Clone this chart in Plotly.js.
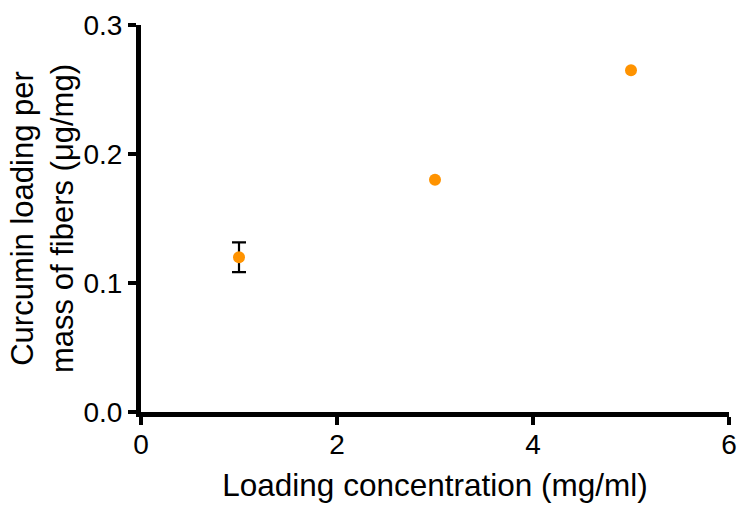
<!DOCTYPE html>
<html>
<head>
<meta charset="utf-8">
<script src="https://cdn.plot.ly/plotly-3.0.1.min.js"></script>
<style>html,body{margin:0;padding:0;background:#fff;}</style>
</head>
<body>
<div id="chart" style="width:737px;height:508px;"></div>
<script>
const concentration = [1, 3, 5];
const loading = [0.12, 0.18, 0.265];
// only the first point has a visible error bar
const loadingErr = [0.0115, undefined, undefined];
const xTicks = [0, 2, 4, 6];
const yTicks = [0.0, 0.1, 0.2, 0.3];
const yTickLabels = ["0.0", "0.1", "0.2", "0.3"];

const font = "Liberation Sans, Arial, sans-serif";

Plotly.newPlot("chart", [{
  x: concentration,
  y: loading,
  type: "scatter",
  mode: "markers",
  marker: {color: "#FF9300", size: 12},
  error_y: {type: "data", array: loadingErr, visible: true, color: "#000", thickness: 2.2, width: 7}
}], {
  width: 737, height: 508,
  margin: {l: 141, r: 8, t: 25, b: 96},
  paper_bgcolor: "#fff", plot_bgcolor: "#fff",
  showlegend: false,
  font: {family: font, color: "#000"},
  xaxis: {
    range: [0, 6], tickvals: xTicks, ticktext: xTicks.map(String),
    showgrid: false, zeroline: false, showline: true, linecolor: "#000", linewidth: 5,
    ticks: "outside", ticklen: 8, tickwidth: 4, tickcolor: "#000",
    tickfont: {size: 28, family: font}, ticklabelstandoff: -5,
    title: {text: "Loading concentration (mg/ml)", font: {size: 31.5, family: font}, standoff: 17}
  },
  yaxis: {
    range: [0, 0.3], tickvals: yTicks, ticktext: yTickLabels,
    showgrid: false, zeroline: false, showline: true, linecolor: "#000", linewidth: 5,
    ticks: "outside", ticklen: 8, tickwidth: 4, tickcolor: "#000",
    tickfont: {size: 28, family: font},
    title: {text: "Curcumin loading per<br>mass of fibers (μg/mg)", font: {size: 31, family: font}, standoff: 2}
  }
}, {staticPlot: true});
</script>
</body>
</html>
